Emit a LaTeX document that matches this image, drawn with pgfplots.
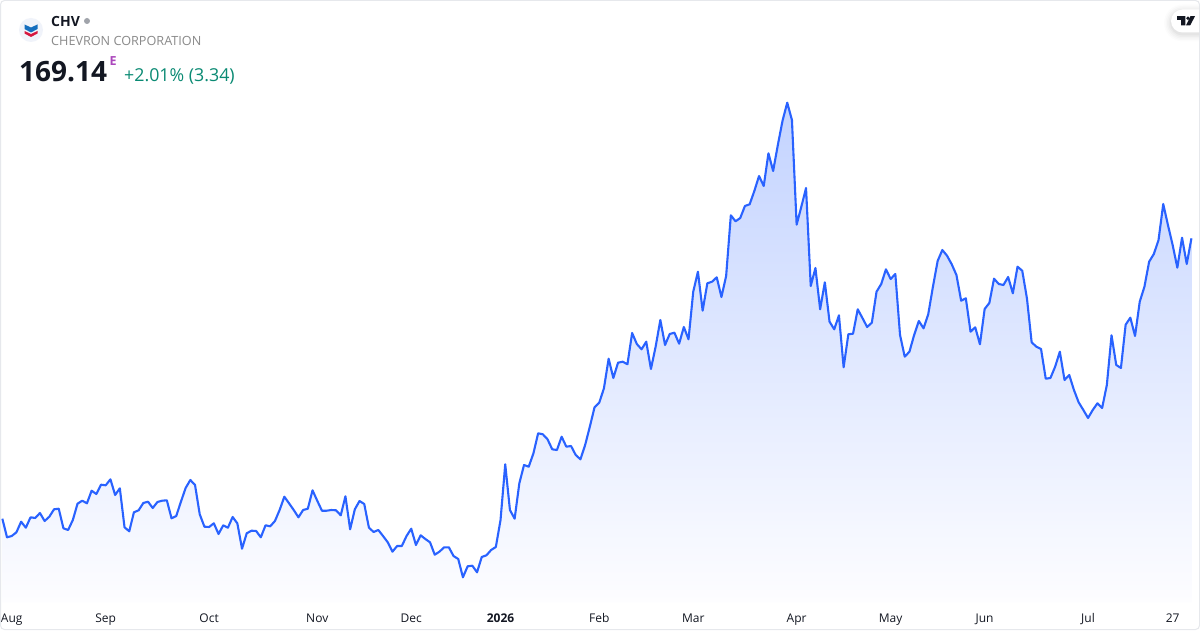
\documentclass[border=0pt]{standalone}
\usepackage{fontspec}
\setmainfont{Open Sans}
\usepackage{pgfplots}
\usepackage{pgfplotstable}
\pgfplotsset{compat=1.18}
\definecolor{lineblue}{HTML}{2962FF}
\definecolor{fillblue}{HTML}{C3D3FF}
\definecolor{fadeblue}{HTML}{FDFDFF}
\definecolor{labelgrey}{HTML}{131722}
\definecolor{subgrey}{HTML}{8A8A8A}
\definecolor{upgreen}{HTML}{0A8A73}
\definecolor{purpleE}{HTML}{AB47BC}
\definecolor{framegrey}{HTML}{E6E8EC}
\definecolor{logobg}{HTML}{F0F3FA}
\definecolor{logoblue}{HTML}{146EBE}
\definecolor{logored}{HTML}{D6173F}
\definecolor{dotgrey}{HTML}{A0A3AA}
\newcommand{\fs}[1]{\fontsize{#1}{#1}\selectfont}
% session index, height of the close
\pgfplotstableread{
i h
0 111.3
1 92.7
2 94
3 97.7
4 108.3
5 102.3
6 112.7
7 112
8 117
9 109
10 113.3
11 120.7
12 121.3
13 101.7
14 100
15 110
16 126.3
17 129.3
18 126.7
19 139.3
20 136
21 145.3
22 144.7
23 150.7
24 135
25 141.7
26 102.7
27 98.7
28 117.7
29 119.7
30 127
31 128.3
32 122
33 128
34 129.3
35 129.7
36 111.7
37 114
38 128.3
39 142
40 150
41 145
42 115.7
43 103.3
44 103
45 106.7
46 96
47 104.7
48 102.3
49 113
50 106.7
51 81.3
52 96.7
53 99.3
54 99
55 92.7
56 104.7
57 103.7
58 109
59 120
60 133.3
61 126.7
62 120
63 112.7
64 120
65 121.3
66 139.7
67 129.3
68 119.3
69 119.3
70 120
71 119.7
72 114.7
73 133.7
74 100.7
75 120.7
76 129
77 126
78 102.3
79 98
80 100
81 94
82 87.7
83 78.3
84 84
85 84
86 94
87 101.3
88 85
89 94.7
90 91
91 87.7
92 75.3
93 78.3
94 82.7
95 82.7
96 74
97 71
98 52.7
99 63.7
100 64.3
101 57.7
102 73
103 74.7
104 80
105 83
106 110
107 165.7
108 120
109 111.3
110 146.7
111 165
112 163.3
113 176.7
114 196.7
115 195.7
116 190.7
117 180.7
118 180
119 193.3
120 183.3
121 184
122 175
123 170.7
124 185
125 203.3
126 222.7
127 227.3
128 241.7
129 271.3
130 252
131 267.3
132 268.3
133 265.7
134 297
135 286
136 280.7
137 288.3
138 261
139 283.3
140 310
141 285
142 296
143 297.3
144 286.3
145 303
146 290.7
147 338.3
148 358.3
149 319.3
150 346.7
151 348.3
152 352.7
153 333
154 354
155 414.7
156 408.7
157 412
158 424
159 425.7
160 439
161 454
162 444
163 476.7
164 459
165 485
166 509.3
167 527.3
168 510
169 405.3
170 423.3
171 442
172 344
173 362
174 320.7
175 347.7
176 308.3
177 300.7
178 314.7
179 262.7
180 295.7
181 296.3
182 320.7
183 312
184 303
185 307.3
186 338.3
187 346
188 360.7
189 351
190 356
191 295
192 273.3
193 278.3
194 295
195 309
196 301.7
197 315.7
198 343.3
199 369
200 380
201 374.3
202 365.7
203 355
204 329.3
205 331.7
206 298.3
207 302.7
208 285.7
209 321
210 327
211 351.3
212 346
213 345
214 353
215 336.7
216 363.3
217 359.3
218 331.7
219 287.7
220 283.3
221 281
222 251.3
223 252
224 263.3
225 278.3
226 250
227 255
228 240
229 227.7
230 220
231 212
232 220
233 226.7
234 222
235 245
236 294.7
237 265
238 262
239 305.3
240 312.3
241 294
242 328.3
243 343.3
244 368.3
245 376
246 390
247 426
248 405
249 385
250 362.3
251 392.3
252 366
253 391.7
}\closes
\begin{document}
\begin{tikzpicture}[x=1pt,y=1pt]
\useasboundingbox (0,0) rectangle (1200,630);
\fill[white] (0,0) rectangle (1200,630);
\begin{axis}[
  at={(0pt,28pt)}, anchor=south west,
  width=1200pt, height=602pt, scale only axis,
  xmin=-0.496, xmax=254.82, ymin=28, ymax=630,
  axis line style={draw=none},
  ytick=\empty,
  xtick={2,22,44,67,87,106,127,147,169,189,209,231,249},
  xticklabels={Aug,Sep,Oct,Nov,Dec,\textbf{2026},Feb,Mar,Apr,May,Jun,Jul,27},
  major tick length=0pt,
  tick style={draw=none},
  x tick label style={anchor=base, yshift=-20pt, inner sep=0pt, outer sep=0pt,
    font=\fs{12}, text=labelgrey},
]
\addplot[draw=none, top color=fillblue, bottom color=fadeblue] table[x=i,y=h] {\closes} \closedcycle;
\addplot[lineblue, line width=2.1pt, line join=round, no markers] table[x=i,y=h] {\closes};
\end{axis}
% frame
\draw[framegrey, line width=1pt, rounded corners=4pt] (0.5,0.5) rectangle (1199.5,629.5);
% header
\fill[logobg] (31,600) circle (12);
\fill[logoblue] (24.5,605.5) -- (31,602.5) -- (37.5,605.5) -- (37.5,601) -- (31,597.5) -- (24.5,601) -- cycle;
\fill[logored] (24.5,599) -- (31,596) -- (37.5,599) -- (37.5,596.5) -- (31,593) -- (24.5,596.5) -- cycle;
\node[anchor=base west, inner sep=0pt, text=labelgrey, font=\fs{14}\bfseries] at (51,603.5) {CHV};
\fill[dotgrey] (87,609) circle (3);
\node[anchor=base west, inner sep=0pt, text=subgrey, font=\fs{12.65}] at (51,584.7) {CHEVRON CORPORATION};
\node[anchor=base west, inner sep=0pt, text=labelgrey, font=\fs{28}\bfseries] at (19,548.5) {169.14};
\node[anchor=base west, inner sep=0pt, text=purpleE, font=\fs{12.5}\bfseries] at (109.3,564) {E};
\node[anchor=base west, inner sep=0pt, text=upgreen, font=\fs{17.8}] at (124,548.7) {+2.01\% (3.34)};
% TV badge
\foreach \g/\o in {7/0.012,5.5/0.016,4/0.02,2.5/0.025,1/0.03}{
  \fill[black, opacity=\o] (1199,{618.5+\g}) -- (1182.5,{618.5+\g}) arc[start angle=90,end angle=270,radius={11.5+\g}] -- (1199,{595.5-\g}) -- cycle;
}
\fill[white] (1199,620.5) -- (1182.5,620.5) arc[start angle=90,end angle=270,radius=11.5] -- (1199,597.5) -- cycle;
\fill[labelgrey] (1177,613.8) -- (1185.3,613.8) -- (1185.3,604.7) -- (1181.2,604.7) -- (1181.2,610) -- (1177,610) -- cycle;
\fill[labelgrey] (1188,611.8) circle (1.9);
\fill[labelgrey] (1190.5,613.8) -- (1195,613.8) -- (1190.2,604.7) -- (1186,604.7) -- cycle;
\end{tikzpicture}
\end{document}
